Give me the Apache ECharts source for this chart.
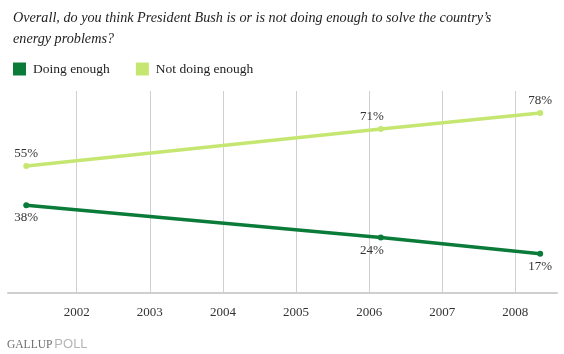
<!DOCTYPE html>
<html><head><meta charset="utf-8">
<script src="https://cdn.jsdelivr.net/npm/echarts@6/dist/echarts.min.js"></script>
<style>html,body{margin:0;padding:0;background:#fff}#c{width:564px;height:354px}</style>
</head><body><div id="c"></div>
<script>
const titleText = "Overall, do you think President Bush is or is not doing enough to solve the country\u2019s\nenergy problems?";
const seriesNames = ["Doing enough", "Not doing enough"];
const pollDates = [2001.31, 2006.16, 2008.34]; // decimal years
const doingEnough = [38, 24, 17];
const notDoingEnough = [55, 71, 78];
const yearTicks = [2002, 2003, 2004, 2005, 2006, 2007, 2008];
const colors = ["#0b7b3a", "#c6e672"];
const serif = "'Liberation Serif', 'DejaVu Serif', serif";

const chart = echarts.init(document.getElementById('c'), null, {renderer: 'canvas'});
const labelShift = (i) => (i === 1 ? {offset: [-9, 0]} : {});
const mk = (vals) => vals.map((v, i) => ({value: [pollDates[i], v], label: labelShift(i)}));
const lbl = (pos) => ({show: true, position: pos, distance: 3, formatter: p => p.value[1] + '%', fontFamily: serif, fontSize: 13, color: '#333'});
chart.setOption({
  animation: false,
  textStyle: {fontFamily: serif},
  title: {
    text: titleText, left: 8, top: 3,
    textStyle: {fontFamily: serif, fontStyle: 'italic', fontWeight: 'normal', fontSize: 14.2, color: '#222', lineHeight: 21}
  },
  legend: {
    left: 8, top: 57, icon: 'rect', itemWidth: 13, itemHeight: 13, itemGap: 26,
    textStyle: {fontFamily: serif, fontSize: 13.5, color: '#222', padding: [0, 0, 0, 2]},
    data: seriesNames
  },
  grid: {left: 8, right: 7, top: 91, bottom: 61},
  xAxis: {
    type: 'value', min: 2001.06, max: 2008.57,
    axisLine: {show: true, lineStyle: {color: '#cfcfcf', width: 2}},
    axisTick: {show: false, customValues: yearTicks},
    axisLabel: {customValues: yearTicks, margin: 13, fontFamily: serif, fontSize: 13, color: '#333', formatter: v => String(v)},
    splitLine: {show: true, lineStyle: {color: '#d0d0d0', width: 1}}
  },
  yAxis: {type: 'value', min: 0, max: 87.5, show: false, splitLine: {show: false}},
  series: [
    {
      name: seriesNames[0], type: 'line', data: mk(doingEnough), color: colors[0],
      symbol: 'circle', symbolSize: 6, lineStyle: {width: 3.5},
      label: lbl('bottom')
    },
    {
      name: seriesNames[1], type: 'line', data: mk(notDoingEnough), color: colors[1],
      symbol: 'circle', symbolSize: 6, lineStyle: {width: 3.5},
      label: lbl('top')
    }
  ],
  graphic: [{
    type: 'text', left: 7, top: 338,
    style: {
      text: '{a|GALLUP}{b|POLL}',
      rich: {
        a: {fontFamily: serif, fontSize: 11.5, fill: '#6e6e6e', padding: [0, 2, 0, 0]},
        b: {fontFamily: "'Liberation Sans', Arial, sans-serif", fontSize: 13, fill: '#b5b5b5'}
      }
    }
  }]
});
</script></body></html>
